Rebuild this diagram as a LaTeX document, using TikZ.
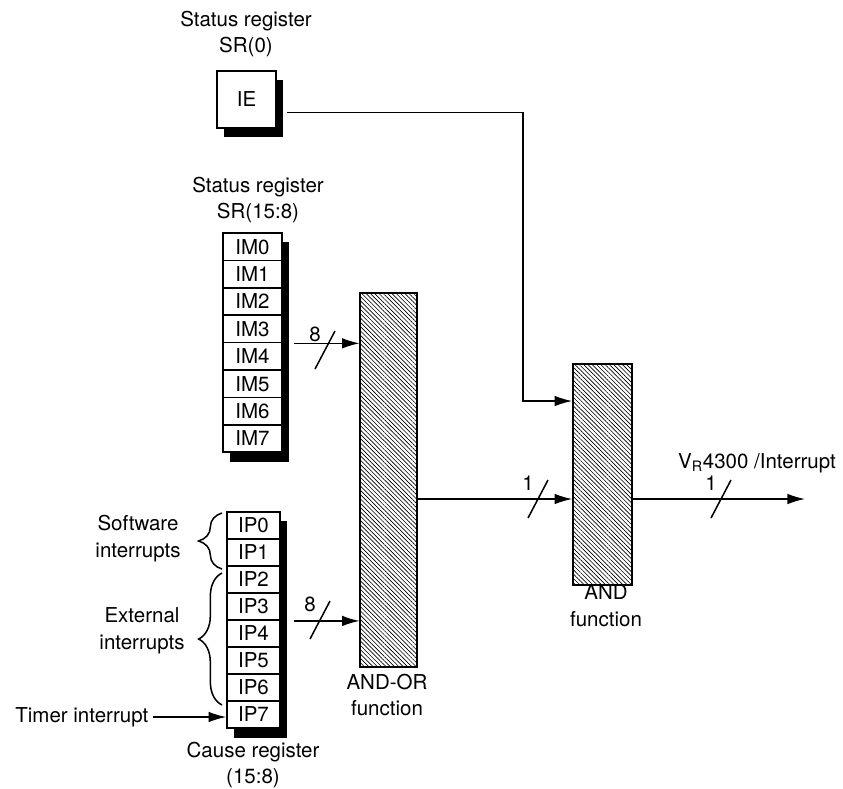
\documentclass[tikz,border=0pt]{standalone}
\usepackage{fontspec}
\setmainfont{TeX Gyre Heros}
\usetikzlibrary{arrows.meta,calc,patterns.meta,shadows,decorations.pathreplacing}

\begin{document}
\begin{tikzpicture}[x=0.03cm,y=-0.03cm,
    font=\fontsize{17.5}{23}\selectfont,line width=1.3pt,
    sig/.style={-{Latex[length=15pt,width=9pt]}},
    regcell/.style={draw,fill=white,inner sep=0pt,minimum height=0.82cm,
      drop shadow={shadow xshift=6pt,shadow yshift=-8pt,fill=black,opacity=1}},
    gate/.style={draw,inner sep=0pt,
      pattern={Lines[angle=-45,distance=2.6pt,line width=.55pt]}},
    title/.style={align=center,inner sep=0pt}]
  \useasboundingbox (0,0) rectangle (843,789);
  % registers
  \node[title] (ietitle) at (246,34) {Status register\\SR(0)};
  \node[regcell,minimum width=1.77cm,minimum height=1.71cm] (ie) at (246.5,99.5) {IE};
  \node[title] (imtitle) at (258,200) {Status register\\SR(15:8)};
  \foreach \i in {0,...,7}
    \node[regcell,minimum width=1.77cm] (im\i) at (252.5,246.7+27.4*\i) {IM\i};
  \foreach \i in {0,...,7}
    \node[regcell,minimum width=1.59cm] (ip\i) at (253.5,525.5+27*\i) {IP\i};
  \node[title] (iptitle) at (253,765) {Cause register\\(15:8)};
  % gates
  \node[gate,minimum width=1.71cm,minimum height=11.22cm] (andor) at (388.5,480) {};
  \node[title] (andortitle) at (387,695) {AND-OR\\function};
  \node[gate,minimum width=1.77cm,minimum height=6.63cm] (and) at (602.5,474.5) {};
  \node[title] (andtitle) at (606,606) {AND\\function};
  % interrupt sources
  \draw[decorate,decoration={brace,amplitude=0.7cm}] (222,569) -- (222,513);
  \draw[decorate,decoration={brace,amplitude=0.7cm}] (222,705) -- (222,573);
  \node[title] (swlabel) at (138,539) {Software\\interrupts};
  \node[title] (extlabel) at (142,631) {External\\interrupts};
  \node[anchor=east,inner sep=0pt] (timer) at (149,717) {Timer interrupt};
  \draw[sig] ($(timer.east)+(4,0)$) -- (timer.east -| ip7.west);
  % signals
  \coordinate (iebend) at (523,401);
  \coordinate (mid) at (0,499);
  \coordinate (outend) at (805,499);
  \draw[sig] ($(ie.east)+(10,13)$) -| (iebend) -- (iebend -| and.west);
  \draw[sig] ($(im3.south east)+(11,0)$) -- (im3.south east -| andor.west);
  \draw[sig] ($(ip3.south east)+(13,0)$) -- (ip3.south east -| andor.west);
  \draw[sig] (andor.east |- mid) -- (and.west |- mid);
  \draw[sig] (and.east |- mid) -- (outend);
  \node[inner sep=0pt] (outlabel) at (757,463) {V\textsubscript{R}4300 /Interrupt};
  \foreach \sx/\sy/\n [count=\k] in {325/350/8,320/620/8,538/499/1,721/499/1}{
    \draw (\sx-10,\sy+19) -- (\sx+10,\sy-19);
    \node[inner sep=1pt] (bus\k) at (\sx-10,\sy-16) {\n};
  }
\end{tikzpicture}
\end{document}
